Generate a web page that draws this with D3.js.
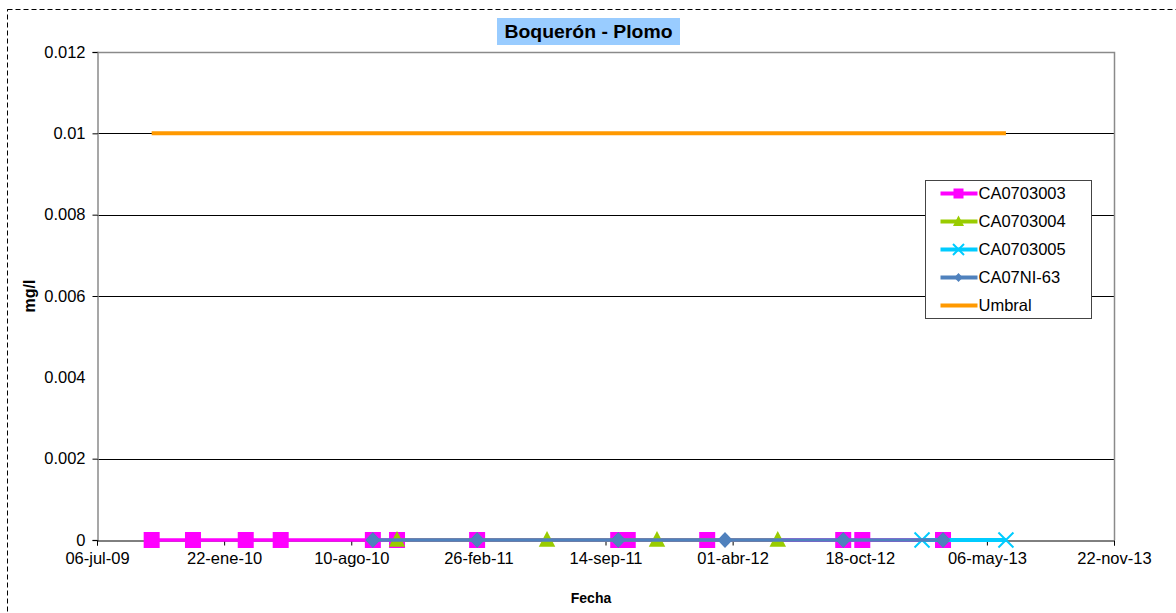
<!DOCTYPE html>
<html>
<head>
<meta charset="utf-8">
<script src="https://cdn.jsdelivr.net/npm/d3@7"></script>
<style>
  body { margin: 0; background: #fff; }
  svg { display: block; font-family: "Liberation Sans", Arial, sans-serif; }
</style>
</head>
<body>
<div id="chart"></div>
<script>
// ---- data ----
const seriesNames = ["CA0703003", "CA0703004", "CA0703005", "CA07NI-63", "Umbral"];

const datesCA0703003 = ["2009-09-30", "2009-12-04", "2010-02-25", "2010-04-21", "2010-09-13", "2010-10-21",
  "2011-02-24", "2011-10-04", "2011-10-19", "2012-02-21", "2012-09-22", "2012-10-22", "2013-02-26"];
const valuesCA0703003 = [0, 0, 0, 0, 0, 0, 0, 0, 0, 0, 0, 0, 0];

const datesCA0703004 = ["2010-10-21", "2011-06-14", "2011-12-04", "2012-06-11"];
const valuesCA0703004 = [0, 0, 0, 0];

const datesCA0703005 = ["2013-01-24", "2013-06-05"];
const valuesCA0703005 = [0, 0];

const datesCA07NI63 = ["2010-09-13", "2011-02-24", "2011-10-04", "2012-03-20", "2012-09-22", "2013-02-26"];
const valuesCA07NI63 = [0, 0, 0, 0, 0, 0];

const datesUmbral = ["2009-09-30", "2013-06-05"];
const valuesUmbral = [0.01, 0.01];

const xTickDates = ["2009-07-06", "2010-01-22", "2010-08-10", "2011-02-26", "2011-09-14",
  "2012-04-01", "2012-10-18", "2013-05-06", "2013-11-22"];
const xTickLabels = ["06-jul-09", "22-ene-10", "10-ago-10", "26-feb-11", "14-sep-11",
  "01-abr-12", "18-oct-12", "06-may-13", "22-nov-13"];
const yTicks = [0, 0.002, 0.004, 0.006, 0.008, 0.01, 0.012];
const yTickLabels = ["0", "0.002", "0.004", "0.006", "0.008", "0.01", "0.012"];
const yGrid = [0.002, 0.006, 0.008, 0.01];

// ---- setup ----
const W = 1176, H = 613;
const plot = { left: 97, right: 1114, top: 52, bottom: 540 };
const parse = d3.timeParse("%Y-%m-%d");

const svg = d3.select("#chart").append("svg")
  .attr("width", W)
  .attr("height", H);

// outer dashed chart border
svg.append("rect")
  .attr("x", 7.5).attr("y", 9.5)
  .attr("width", W).attr("height", H)
  .attr("fill", "none")
  .attr("stroke", "#000")
  .attr("stroke-dasharray", "5,3");

const x = d3.scaleTime()
  .domain([parse("2009-07-06"), parse("2013-11-22")])
  .range([plot.left, plot.right]);

const y = d3.scaleLinear()
  .domain([0, 0.012])
  .range([plot.bottom, plot.top]);

// gridlines
svg.append("g")
  .selectAll("line")
  .data(yGrid)
  .join("line")
  .attr("x1", plot.left).attr("x2", plot.right)
  .attr("y1", d => Math.round(y(d)) + 0.5)
  .attr("y2", d => Math.round(y(d)) + 0.5)
  .attr("stroke", "#000");

// plot area border (top + right)
svg.append("path")
  .attr("d", `M${plot.left},${plot.top + 0.5}H${plot.right + 0.5}V${plot.bottom}`)
  .attr("fill", "none")
  .attr("stroke", "#8a8a8a")
  .attr("stroke-width", 1.5);

// y axis
const yAxis = svg.append("g")
  .attr("transform", `translate(${plot.left + 0.5},0)`)
  .call(d3.axisLeft(y)
    .tickValues(yTicks)
    .tickSize(5)
    .tickFormat((d, i) => yTickLabels[i]));
yAxis.select(".domain").attr("stroke", "#8a8a8a").attr("stroke-width", 1.5);
yAxis.selectAll(".tick line")
  .attr("stroke", (d) => d === 0.004 ? "none" : "#000");
yAxis.selectAll(".tick text")
  .attr("x", -12)
  .style("font-size", "16.5px")
  .style("font-family", "'Liberation Sans', Arial, sans-serif")
  .attr("fill", "#000");

// x axis
const xAxis = svg.append("g")
  .attr("transform", `translate(0,${plot.bottom + 0.5})`)
  .call(d3.axisBottom(x)
    .tickValues(xTickDates.map(parse))
    .tickSize(5)
    .tickFormat((d, i) => xTickLabels[i]));
xAxis.select(".domain").attr("stroke", "#000");
xAxis.selectAll(".tick text")
  .attr("y", 12)
  .style("font-size", "16.5px")
  .style("font-family", "'Liberation Sans', Arial, sans-serif")
  .attr("fill", "#000");

// ---- series ----
const series = [
  { name: seriesNames[0], dates: datesCA0703003, values: valuesCA0703003, color: "#ff00ff", width: 3.5, marker: "square" },
  { name: seriesNames[1], dates: datesCA0703004, values: valuesCA0703004, color: "#99cc00", width: 3, marker: "triangle" },
  { name: seriesNames[2], dates: datesCA0703005, values: valuesCA0703005, color: "#00ccff", width: 4, marker: "x" },
  { name: seriesNames[3], dates: datesCA07NI63, values: valuesCA07NI63, color: "#4f81bd", width: 3.5, marker: "diamond" },
  { name: seriesNames[4], dates: datesUmbral, values: valuesUmbral, color: "#ff9900", width: 4, marker: "none" }
];

const line = d3.line().x(d => x(d.date)).y(d => y(d.value));

function drawMarker(g, type, color, size) {
  if (type === "square") {
    g.append("rect")
      .attr("x", -size / 2).attr("y", -size / 2)
      .attr("width", size).attr("height", size)
      .attr("fill", color);
  } else if (type === "triangle") {
    const s = size;
    g.append("path")
      .attr("d", `M0,${-s * 0.6}L${s * 0.55},${s * 0.45}L${-s * 0.55},${s * 0.45}Z`)
      .attr("fill", color);
  } else if (type === "diamond") {
    const s = size / 2;
    g.append("path")
      .attr("d", `M0,${-s}L${s * 0.95},0L0,${s}L${-s * 0.95},0Z`)
      .attr("fill", color);
  } else if (type === "x") {
    const s = size / 2;
    g.append("path")
      .attr("d", `M${-s},${-s}L${s},${s}M${s},${-s}L${-s},${s}`)
      .attr("stroke", color)
      .attr("stroke-width", 2)
      .attr("fill", "none");
  }
}

const markerSize = { square: 16, triangle: 15, diamond: 16, x: 15 };

series.forEach(s => {
  const pts = s.dates.map((d, i) => ({ date: parse(d), value: s.values[i] }));
  const g = svg.append("g");
  g.append("path")
    .datum(pts)
    .attr("d", line)
    .attr("fill", "none")
    .attr("stroke", s.color)
    .attr("stroke-width", s.width);
  if (s.marker !== "none") {
    g.selectAll("g.m")
      .data(pts)
      .join("g")
      .attr("class", "m")
      .attr("transform", d => `translate(${x(d.date)},${y(d.value)})`)
      .each(function () { drawMarker(d3.select(this), s.marker, s.color, markerSize[s.marker]); });
  }
});

// ---- legend ----
const legend = svg.append("g").attr("transform", "translate(925.5,180.5)");
legend.append("rect")
  .attr("width", 166).attr("height", 138)
  .attr("fill", "#fff")
  .attr("stroke", "#444");

const legendSize = { square: 10, triangle: 10, diamond: 9, x: 11 };
series.forEach((s, i) => {
  const row = legend.append("g").attr("transform", `translate(0,${13 + i * 28})`);
  row.append("line")
    .attr("x1", 15).attr("x2", 52)
    .attr("stroke", s.color)
    .attr("stroke-width", 4);
  if (s.marker !== "none") {
    const m = row.append("g").attr("transform", "translate(33,0)");
    drawMarker(m, s.marker, s.color, legendSize[s.marker]);
  }
  row.append("text")
    .attr("x", 53)
    .attr("dy", "0.35em")
    .style("font-size", "16.5px")
    .attr("fill", "#000")
    .text(s.name);
});

// ---- titles ----
svg.append("rect")
  .attr("x", 497).attr("y", 18)
  .attr("width", 183).attr("height", 27)
  .attr("fill", "#99ccff");
svg.append("text")
  .attr("x", 588.5).attr("y", 38)
  .attr("text-anchor", "middle")
  .attr("textLength", 168)
  .attr("lengthAdjust", "spacingAndGlyphs")
  .style("font-size", "19px")
  .style("font-weight", "bold")
  .text("Boquerón - Plomo");

svg.append("text")
  .attr("transform", "translate(35,296) rotate(-90)")
  .attr("text-anchor", "middle")
  .style("font-size", "16px")
  .style("font-weight", "bold")
  .text("mg/l");

svg.append("text")
  .attr("x", 591).attr("y", 603)
  .attr("text-anchor", "middle")
  .style("font-size", "14px")
  .style("font-weight", "bold")
  .text("Fecha");
</script>
</body>
</html>
